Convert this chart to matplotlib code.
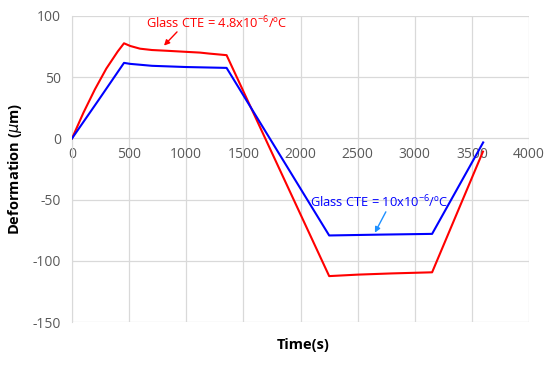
import matplotlib
matplotlib.use("Agg")
import matplotlib.pyplot as plt

# Data
# red: glass CTE = 4.8e-6 /ºC
red_t = [0, 100, 200, 300, 400, 455, 510, 595, 700, 828, 1000, 1120, 1200, 1353, 2251, 2500, 2800, 3152, 3597]
red_y = [0, 21, 40, 57, 71, 77.7, 75.5, 73.3, 72.2, 71.6, 70.7, 70.1, 69.3, 68.0, -112.5, -111.3, -110.3, -109.4, -10.8]

# blue: glass CTE = 10e-6 /ºC
blue_t = [0, 230, 455, 508, 700, 1000, 1353, 2251, 2700, 3152, 3599]
blue_y = [0, 31, 61.7, 60.9, 59.3, 58.3, 57.6, -79.3, -78.6, -78.0, -3.3]

x_ticks = [0, 500, 1000, 1500, 2000, 2500, 3000, 3500, 4000]
y_ticks = [-150, -100, -50, 0, 50, 100]

plt.rcParams['font.family'] = ['Open Sans', 'DejaVu Sans']
plt.rcParams['axes.unicode_minus'] = False
plt.rcParams['mathtext.default'] = 'regular'

fig = plt.figure(figsize=(5.57, 3.66), dpi=100)
ax = fig.add_axes([0.1293, 0.1202, 0.8204, 0.8361])

ax.plot(red_t, red_y, color='#ff0000', lw=1.5, zorder=3)
ax.plot(blue_t, blue_y, color='#0000ff', lw=1.5, zorder=3)

ax.set_xlim(0, 4000)
ax.set_ylim(-150, 100)
ax.set_xticks(x_ticks)
ax.set_yticks(y_ticks)
ax.grid(True, color='#d9d9d9', lw=0.9)
ax.set_axisbelow(True)

for s in ['top', 'right', 'bottom']:
    ax.spines[s].set_visible(False)
ax.spines['left'].set_color('#d9d9d9')
ax.spines['bottom'].set_position(('data', 0))
ax.tick_params(length=0, labelsize=10, labelcolor='#595959')
ax.tick_params(axis='x', pad=6)
ax.tick_params(axis='y', pad=8)

# red label + arrow
ax.annotate('', xy=(805, 75.8), xytext=(919, 87),
            arrowprops=dict(arrowstyle='-|>', color='#ff0000', lw=1, mutation_scale=8,
                            shrinkA=0, shrinkB=0))
ax.text(1268, 94, 'Glass CTE = 4.8x10$^{-6}$/ºC', color='#ff0000', fontsize=9.3,
        ha='center', va='center')

# blue label + arrow
ax.annotate('', xy=(2651, -77), xytext=(2747, -60),
            arrowprops=dict(arrowstyle='-|>', color='#1e90ff', lw=1, mutation_scale=8,
                            shrinkA=0, shrinkB=0))
ax.text(2690, -52, 'Glass CTE = 10x10$^{-6}$/ºC', color='#0000ff', fontsize=9.3,
        ha='center', va='center')

fig.text(0.545, 0.057, 'Time(s)', fontsize=10.5, fontweight='bold', ha='center', va='center')
fig.text(0.027, 0.538, 'Deformation ($\\mathit{\\mu}$m)', fontsize=10.5, fontweight='bold',
         rotation=90, ha='center', va='center')

fig.savefig('out.png', dpi=100)
